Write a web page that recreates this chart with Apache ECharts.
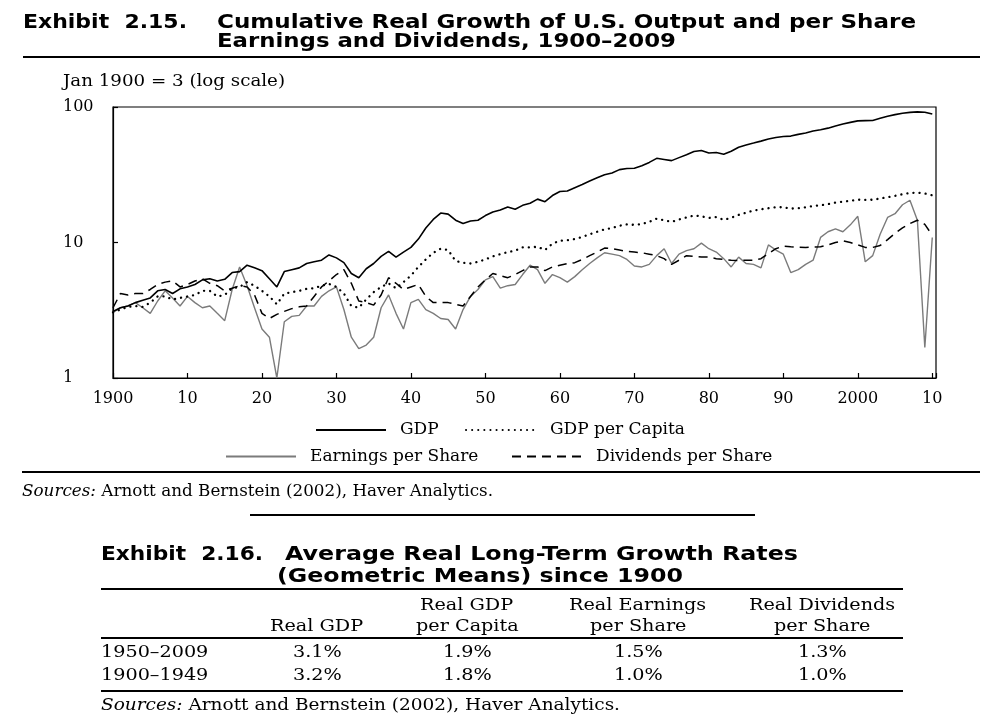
<!DOCTYPE html>
<html><head><meta charset="utf-8">
<script src="https://cdn.jsdelivr.net/npm/echarts@6/dist/echarts.min.js"></script>
<style>
html,body{margin:0;padding:0;background:#fff;width:997px;height:726px;overflow:hidden;position:relative;}
#chart{position:absolute;left:0;top:0;width:997px;height:726px;}
.t{position:absolute;white-space:nowrap;color:#000;transform-origin:0 0;}
.rule{position:absolute;background:#000;height:1.4px;}
</style></head><body>
<div id="chart"></div>
<script>
// ---------------- DATA ----------------
const years = [
1900,1901,1902,1903,1904,1905,1906,1907,1908,1909,
1910,1911,1912,1913,1914,1915,1916,1917,1918,1919,
1920,1921,1922,1923,1924,1925,1926,1927,1928,1929,
1930,1931,1932,1933,1934,1935,1936,1937,1938,1939,
1940,1941,1942,1943,1944,1945,1946,1947,1948,1949,
1950,1951,1952,1953,1954,1955,1956,1957,1958,1959,
1960,1961,1962,1963,1964,1965,1966,1967,1968,1969,
1970,1971,1972,1973,1974,1975,1976,1977,1978,1979,
1980,1981,1982,1983,1984,1985,1986,1987,1988,1989,
1990,1991,1992,1993,1994,1995,1996,1997,1998,1999,
2000,2001,2002,2003,2004,2005,2006,2007,2008,2009,2010];

const gdp = [
3.1,3.3,3.4,3.6,3.75,3.9,4.4,4.5,4.2,4.55,
4.7,4.9,5.3,5.4,5.2,5.35,6.0,6.1,6.8,6.5,
6.2,5.4,4.7,6.1,6.3,6.5,7.0,7.2,7.4,8.1,
7.7,7.1,5.9,5.5,6.4,7.0,7.9,8.6,7.8,8.5,
9.2,10.6,12.8,14.8,16.5,16.2,14.6,13.8,14.4,14.6,
15.8,16.8,17.4,18.3,17.6,18.8,19.5,20.9,20.0,22.2,
23.8,24.0,25.4,26.8,28.4,30.0,31.6,32.6,34.5,35.2,
35.3,36.8,39.0,41.8,41.0,40.2,42.3,44.5,47.0,47.8,
45.8,46.2,44.8,47.2,50.5,52.5,54.2,56.0,58.0,59.5,
60.5,61.0,62.8,64.2,66.5,68.0,69.8,72.5,75.0,77.0,
79.0,79.3,79.5,82.5,85.5,87.8,90.0,91.3,92.0,91.5,88.7];

const gdpPerCapita = [
3.05,3.2,3.35,3.4,3.35,3.6,4.0,4.0,3.8,3.9,
4.0,4.1,4.4,4.4,4.0,4.1,4.6,4.7,5.1,4.8,
4.4,4.0,3.5,4.2,4.3,4.4,4.55,4.6,4.8,4.95,
4.7,4.2,3.4,3.3,3.8,4.3,4.7,5.0,4.6,5.1,
5.7,6.6,7.5,8.4,9.0,8.8,7.3,7.1,7.0,7.2,
7.5,7.9,8.2,8.5,8.7,9.2,9.2,9.3,8.8,9.8,
10.3,10.4,10.6,11.0,11.5,12.0,12.5,12.8,13.3,13.6,
13.5,13.7,14.2,15.0,14.6,14.2,14.8,15.3,15.8,15.6,
15.2,15.4,14.7,15.2,16.0,16.6,17.2,17.6,17.9,18.2,
18.2,17.8,17.9,18.2,18.6,18.8,19.2,19.7,20.0,20.3,
20.7,20.6,20.7,21.1,21.6,22.1,22.7,23.2,23.3,23.0,22.3];

const earningsPerShare = [
3.05,3.3,3.4,3.6,3.3,3.0,3.7,4.4,3.9,3.4,
4.0,3.6,3.3,3.4,3.0,2.65,4.5,6.6,4.8,3.3,
2.3,2.0,1.0,2.6,2.85,2.9,3.4,3.4,4.0,4.4,
4.7,3.2,2.0,1.65,1.75,2.0,3.3,4.1,3.0,2.3,
3.6,3.8,3.2,3.0,2.75,2.7,2.3,3.2,4.0,4.5,
5.3,5.6,4.6,4.8,4.9,5.8,6.8,6.3,5.0,5.8,
5.5,5.1,5.6,6.3,7.0,7.7,8.4,8.2,8.0,7.5,
6.7,6.6,6.9,8.0,9.0,7.0,8.2,8.7,9.0,9.9,
9.0,8.5,7.6,6.6,7.8,7.0,6.9,6.5,9.6,8.8,
8.2,6.0,6.3,6.9,7.4,10.9,12.0,12.6,12.0,13.5,
15.6,7.2,8.0,11.5,15.3,16.3,19.0,20.5,14.6,1.68,10.9];

const dividendsPerShare = [
3.3,4.2,4.1,4.2,4.2,4.5,4.9,5.1,5.2,4.7,
4.9,5.2,5.4,5.0,4.8,4.4,4.6,4.8,4.7,4.1,
3.0,2.75,2.95,3.1,3.25,3.35,3.4,4.0,4.7,5.2,
5.8,6.3,5.0,3.7,3.6,3.45,4.1,5.5,5.0,4.5,
4.7,4.9,4.0,3.6,3.6,3.6,3.5,3.4,4.0,4.7,
5.3,5.9,5.7,5.5,5.8,6.2,6.6,6.6,6.2,6.6,
6.8,7.0,7.1,7.5,8.0,8.5,9.1,9.0,8.8,8.6,
8.5,8.4,8.2,8.0,7.6,6.9,7.4,8.0,7.9,7.8,
7.8,7.6,7.5,7.4,7.35,7.4,7.4,7.6,8.3,9.0,
9.4,9.3,9.25,9.2,9.25,9.3,9.6,10.0,10.3,10.0,
9.6,9.2,9.2,9.5,10.5,11.7,12.8,13.8,14.6,13.6,11.3];

const seriesNames = ['GDP','GDP per Capita','Earnings per Share','Dividends per Share'];
const yTickLabels = ['1','10','100'];

const tableHeaders = [['', 'Real GDP'], ['Real GDP', 'per Capita'], ['Real Earnings', 'per Share'], ['Real Dividends', 'per Share']];
const tablePeriods = ['1950–2009', '1900–1949'];
const tableRates = [['3.1%','1.9%','1.5%','1.3%'], ['3.2%','1.8%','1.0%','1.0%']];

// ---------------- CHART ----------------
const pairs = (xs, ys) => xs.map((x, i) => [x, ys[i]]);
const serif = 'DejaVu Serif';

const chart = echarts.init(document.getElementById('chart'), null, {renderer: 'canvas'});
const legendBase = {
  orient: 'horizontal', itemWidth: 70, itemHeight: 14, itemGap: 0,
  itemStyle: {opacity: 0, borderWidth: 0},
  textStyle: {fontFamily: serif, fontSize: 17, color: '#000', padding: [0, 0, 0, 9]},
  selectedMode: false
};
chart.setOption({
  animation: false,
  backgroundColor: 'transparent',
  grid: {left: 113, right: 61, top: 107, bottom: 348, show: true, borderColor: '#000', borderWidth: 1.2, containLabel: false},
  xAxis: {
    type: 'value', min: 1900, max: 2010.5, interval: 10,
    axisLine: {show: true, lineStyle: {color: '#000', width: 1.2}},
    axisTick: {show: true, inside: true, length: 5, lineStyle: {color: '#000', width: 1.2}},
    splitLine: {show: false},
    axisLabel: {
      color: '#000', fontFamily: serif, fontSize: 16, margin: 13,
      formatter: v => (v % 10 !== 0) ? '' : ((v === 1900 || v === 2000) ? String(v) : String(v % 100).padStart(2, '0'))
    }
  },
  yAxis: {
    type: 'log', logBase: 10, min: 1, max: 100,
    axisLine: {show: true, lineStyle: {color: '#000', width: 1.2}},
    axisTick: {show: true, inside: true, length: 5, lineStyle: {color: '#000', width: 1.2}},
    minorTick: {show: false}, splitLine: {show: false}, minorSplitLine: {show: false},
    axisLabel: {color: '#000', fontFamily: serif, fontSize: 16, align: 'left', margin: 50,
      formatter: v => { const s = String(Math.round(v)); return yTickLabels.indexOf(s) >= 0 ? s : ''; }}
  },
  legend: [
    Object.assign({}, legendBase, {data: [seriesNames[0]], left: 310, top: 416.5}),
    Object.assign({}, legendBase, {data: [seriesNames[1]], left: 460, top: 416.5}),
    Object.assign({}, legendBase, {data: [seriesNames[2]], left: 220, top: 443}),
    Object.assign({}, legendBase, {data: [seriesNames[3]], left: 506, top: 443})
  ],
  series: [
    {name: seriesNames[2], type: 'line', data: pairs(years, earningsPerShare), symbol: 'none', color: '#7b7b7b',
      lineStyle: {color: '#7b7b7b', width: 1.4}, z: 1},
    {name: seriesNames[3], type: 'line', data: pairs(years, dividendsPerShare), symbol: 'none', color: '#000',
      lineStyle: {color: '#000', width: 1.5, type: [9, 6]}, z: 2},
    {name: seriesNames[1], type: 'line', data: pairs(years, gdpPerCapita), symbol: 'none', color: '#000',
      lineStyle: {color: '#000', width: 2.3, type: [0.1, 6], cap: 'round'}, z: 3},
    {name: seriesNames[0], type: 'line', data: pairs(years, gdp), symbol: 'none', color: '#000',
      lineStyle: {color: '#000', width: 1.6}, z: 4}
  ]
});

// ---------------- TEXT / TABLE (HTML) ----------------
const SANSB = "bold 19px 'DejaVu Sans'";
const SER = "16px 'DejaVu Serif'";
function place(item) {
  const el = document.createElement('div');
  el.className = 't';
  el.style.font = item.f;
  el.style.lineHeight = '1';
  el.innerHTML = item.h;
  document.body.appendChild(el);
  const nat = el.getBoundingClientRect().width;
  const sx = item.w ? item.w / nat : (item.sx || 1);
  const size = parseFloat(item.f.match(/(\d+(\.\d+)?)px/)[1]);
  el.style.top = (item.cy - 0.48 * size) + 'px';
  const left = item.c ? item.x - nat * sx / 2 : item.x;
  el.style.left = left + 'px';
  el.style.transform = 'scaleX(' + sx + ')';
  return el;
}
function rule(x1, x2, y, h) {
  const el = document.createElement('div');
  el.className = 'rule';
  el.style.left = x1 + 'px'; el.style.width = (x2 - x1) + 'px';
  el.style.top = (y - (h || 1.4) / 2) + 'px'; el.style.height = (h || 1.4) + 'px';
  document.body.appendChild(el);
}

place({h: 'Exhibit&nbsp;&nbsp;2.15.', x: 23, cy: 20.7, f: SANSB, w: 164});
place({h: 'Cumulative Real Growth of U.S. Output and per Share', x: 217, cy: 20.7, f: SANSB, w: 699});
place({h: 'Earnings and Dividends, 1900–2009', x: 217, cy: 40.5, f: SANSB, w: 459});
rule(23, 980, 57);
place({h: 'Jan 1900 = 3 (log scale)', x: 63, cy: 81, f: SER, w: 222});
rule(22, 980, 472);
place({h: '<i>Sources:</i> Arnott and Bernstein (2002), Haver Analytics.', x: 22, cy: 491, f: SER, w: 471});
rule(250, 755, 515);

place({h: 'Exhibit&nbsp;&nbsp;2.16.', x: 101, cy: 553.5, f: SANSB, w: 162});
place({h: 'Average Real Long-Term Growth Rates', x: 285, cy: 553.5, f: SANSB, w: 513});
place({h: '(Geometric Means) since 1900', x: 277, cy: 575, f: SANSB, w: 406});
rule(101, 903, 589);
rule(101, 903, 638);
rule(101, 903, 691);

const colCenters = [317, 467, 638, 822];
const TS = 1.2;
tableHeaders.forEach((hd, i) => {
  if (hd[0]) place({h: hd[0], x: colCenters[i], cy: 605, f: SER, sx: TS, c: true});
  place({h: hd[1], x: colCenters[i], cy: 626, f: SER, sx: TS, c: true});
});
tablePeriods.forEach((p, r) => {
  const cy = [652, 675][r];
  place({h: p, x: 101, cy: cy, f: SER, sx: TS});
  tableRates[r].forEach((v, i) => place({h: v, x: colCenters[i], cy: cy, f: SER, sx: TS, c: true}));
});
place({h: '<i>Sources:</i> Arnott and Bernstein (2002), Haver Analytics.', x: 101, cy: 705, f: SER, w: 519});
</script>
</body></html>
